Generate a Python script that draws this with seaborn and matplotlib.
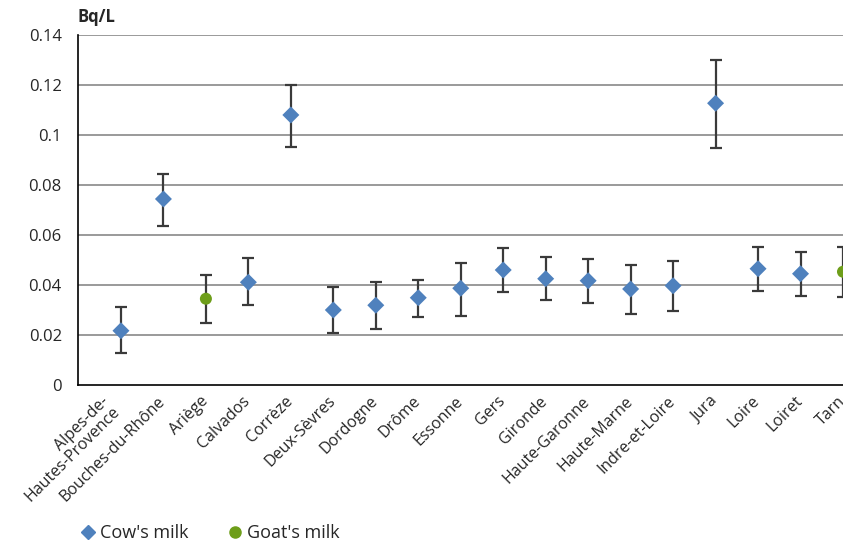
import matplotlib
matplotlib.use("Agg")
import matplotlib.pyplot as plt
import matplotlib.transforms as mtransforms
import seaborn as sns
import pandas as pd
import numpy as np

# departments, in plotting order (positions 1..18)
departments = ["Alpes-de-\nHautes-Provence", "Bouches-du-Rhône", "Ariège", "Calvados",
               "Corrèze", "Deux-Sèvres", "Dordogne", "Drôme", "Essonne", "Gers",
               "Gironde", "Haute-Garonne", "Haute-Marne", "Indre-et-Loire", "Jura",
               "Loire", "Loiret", "Tarn"]
milk = ["Cow's milk", "Cow's milk", "Goat's milk", "Cow's milk", "Cow's milk",
        "Cow's milk", "Cow's milk", "Cow's milk", "Cow's milk", "Cow's milk",
        "Cow's milk", "Cow's milk", "Cow's milk", "Cow's milk", "Cow's milk",
        "Cow's milk", "Cow's milk", "Goat's milk"]
activity = [0.0217, 0.0744, 0.0345, 0.0411, 0.108, 0.030, 0.0319, 0.0349, 0.0387,
            0.046, 0.0425, 0.0417, 0.0384, 0.0397, 0.1127, 0.0465, 0.0445, 0.0453]
upper = [0.0313, 0.0843, 0.0440, 0.0507, 0.120, 0.0393, 0.0413, 0.0420, 0.0489,
         0.0548, 0.0512, 0.0504, 0.0480, 0.0497, 0.130, 0.0552, 0.0533, 0.0552]
lower = [0.0127, 0.0636, 0.0249, 0.0319, 0.0953, 0.0207, 0.0225, 0.0273, 0.0277,
         0.0373, 0.0339, 0.0329, 0.0285, 0.0297, 0.0949, 0.0377, 0.0357, 0.0353]

df = pd.DataFrame({"pos": np.arange(1, len(departments) + 1), "dept": departments,
                   "milk": milk, "value": activity, "hi": upper, "lo": lower})

sns.set_style("white")
plt.rcParams["font.family"] = ["Open Sans", "DejaVu Sans"]

fig = plt.figure(figsize=(8.43, 5.44), dpi=100)
ax = fig.add_axes([0.0931, 0.2923, 0.9069, 0.6434])

for v in np.arange(0.02, 0.141, 0.02):
    ax.axhline(v, color="#7f7f7f", lw=1.1, zorder=0)

ax.errorbar(df["pos"], df["value"],
            yerr=[df["value"] - df["lo"], df["hi"] - df["value"]],
            fmt="none", ecolor="#3a3a3a", elinewidth=1.6, capsize=4.5, capthick=1.6, zorder=2)

palette = {"Cow's milk": "#4F81BD", "Goat's milk": "#6E9E1A"}
markers = {"Cow's milk": "D", "Goat's milk": "o"}
sns.scatterplot(data=df, x="pos", y="value", hue="milk", style="milk",
                palette=palette, markers=markers, s=75, edgecolor="none",
                ax=ax, zorder=3, legend=False)

ax.set_xlim(0, 18)
ax.set_ylim(0, 0.14)
ax.set_xticks(np.arange(0, 19))
ax.set_xticklabels([""] + departments, rotation=45, ha="right", va="top",
                   rotation_mode="anchor", fontsize=11.5, linespacing=0.9)
ax.set_yticks(np.arange(0, 0.141, 0.02))
ax.set_yticklabels(["0", "0.02", "0.04", "0.06", "0.08", "0.1", "0.12", "0.14"], fontsize=12)
ax.tick_params(axis="x", direction="out", length=5, width=1, color="black", pad=1)
ax.tick_params(axis="y", length=0, pad=12)
ax.set_xlabel("")
ax.set_ylabel("")
for side in ["top", "right"]:
    ax.spines[side].set_visible(False)
for side in ["left", "bottom"]:
    ax.spines[side].set_color("black")
    ax.spines[side].set_linewidth(1.2)

# nudge the slanted labels left, the two-line one a bit more
for i, lab in enumerate(ax.get_xticklabels()):
    dx = -20 if i == 1 else -6
    lab.set_transform(lab.get_transform() + mtransforms.ScaledTranslation(dx / 100, 0, fig.dpi_scale_trans))

fig.text(0.0925, 0.968, "Bq/L", fontsize=12, fontweight="bold", ha="left", va="center")

handles = [plt.Line2D([], [], marker="D", color=palette["Cow's milk"], ls="none", markersize=7),
           plt.Line2D([], [], marker="o", color=palette["Goat's milk"], ls="none", markersize=8)]
fig.legend(handles, ["Cow's milk", "Goat's milk"], loc="center left",
           bbox_to_anchor=(0.072, 0.02), ncol=2, frameon=False, fontsize=13,
           handletextpad=0.05, columnspacing=2.0, handlelength=1.2)

fig.savefig("out.png", dpi=100)
